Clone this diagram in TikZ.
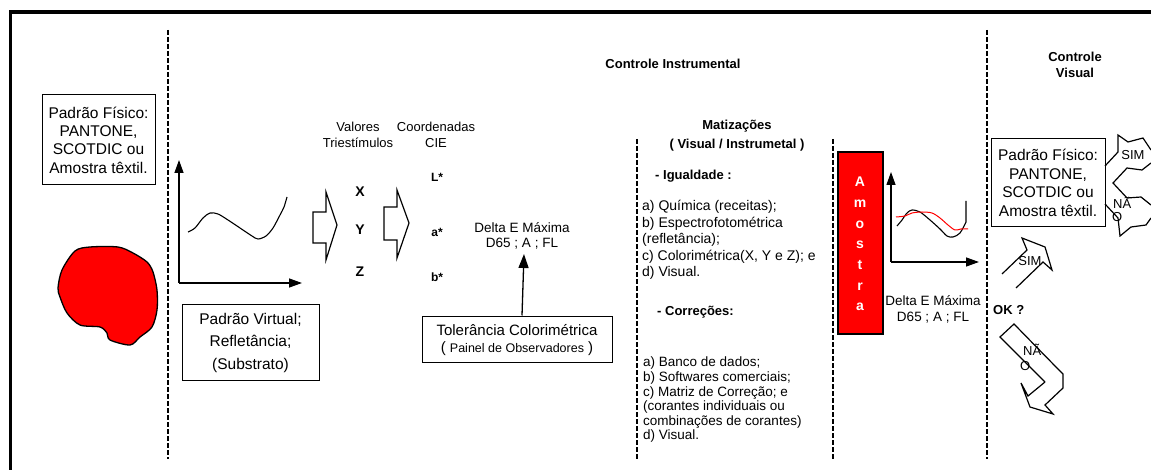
\documentclass[tikz,border=0pt]{standalone}
\usepackage{fontspec}
\setmainfont{Liberation Sans}
\usetikzlibrary{arrows.meta}
\newcommand{\fs}[2]{\fontsize{#1}{#2}\selectfont}
\begin{document}
\begin{tikzpicture}[x=1pt,y=-1pt,
  dashline/.style={line width=1.1pt,dash pattern=on 5pt off 2pt},
  txtbox/.style={draw,line width=1pt,inner sep=0pt,align=center},
  axis/.style={line width=1.3pt,-{Triangle[length=13pt,width=9pt]}},
  hollow/.style={line width=1.2pt,line join=miter},
  lbl/.style={inner sep=0pt,align=center},
  lst/.style={inner sep=0pt,align=left,anchor=north west},
  curve/.style={line width=1.1pt,line join=round}]
\useasboundingbox (0,0) rectangle (1151,470);
% frame
\draw[line width=3.3pt] (10.5,470) -- (10.5,12) -- (1151,12);
% dashed separators
\coordinate (d1t) at (168,30); \coordinate (d1b) at (168,459);
\coordinate (d2t) at (637,139); \coordinate (d2b) at (637,459);
\coordinate (d3t) at (833,139); \coordinate (d3b) at (833,459);
\coordinate (d4t) at (987,30); \coordinate (d4b) at (987,459);
\draw[dashline] (d1t) -- (d1b);
\draw[dashline] (d2t) -- (d2b);
\draw[dashline] (d3t) -- (d3b);
\draw[dashline] (d4t) -- (d4b);
% titles
\node[lbl,font=\bfseries\fs{13}{16}] (ci) at (673,64) {Controle Instrumental};
\node[lbl,font=\bfseries\fs{13}{16}] (cv) at (1075,65) {Controle\\Visual};
% left box
\node[txtbox,minimum width=113pt,minimum height=90pt,font=\fs{15.5}{18.3}] (pf1) at (98.5,140)
  {Padrão Físico:\\PANTONE,\\SCOTDIC ou\\Amostra têxtil.};
% red blob
\draw[line width=1.3pt,fill=red] plot[smooth cycle,tension=0.5] coordinates {
  (75,251) (90,247) (118,247) (133,253) (147,262) (153,272) (157,290) (157,310)
  (152,327) (140,337) (130,345) (110,340) (107,333) (100,327) (80,325) (67,313)
  (60,297) (58,288) (62,270)};
% graph 1
\coordinate (o1) at (179,283);
\coordinate (y1) at (179,160);
\coordinate (x1) at (302,283);
\draw[axis] (o1) -- (y1);
\draw[axis] (o1) -- (x1);
\draw[curve] plot[smooth,tension=0.5] coordinates {(188,232) (195,228) (203,218) (210,213) (218,214)
  (228,220) (240,228) (252,236) (258,239) (266,236) (273,228) (280,215) (284,207) (287,197)};
\node[txtbox,minimum width=137pt,minimum height=75pt,font=\fs{15.5}{22.5}] (pv) at (250.5,342.5)
  {Padrão Virtual;\\Refletância;\\(Substrato)};
% labels
\node[lbl,font=\fs{13}{15.5}] (vt) at (358,135) {Valores\\Triestímulos};
\node[lbl,font=\fs{13}{15.5}] (cc) at (436,135) {Coordenadas\\CIE};
\node[lbl,font=\bfseries\fs{14}{15}] (X) at (360,192) {X};
\node[lbl,font=\bfseries\fs{14}{15}] (Y) at (360,230) {Y};
\node[lbl,font=\bfseries\fs{14}{15}] (Z) at (360,272) {Z};
\node[lbl,font=\bfseries\fs{12}{14}] (L) at (437,177) {L*};
\node[lbl,font=\bfseries\fs{12}{14}] (a) at (437,232) {a*};
\node[lbl,font=\bfseries\fs{12}{14}] (b) at (437,277) {b*};
% hollow arrows
\draw[hollow] (313,212) -- (326,212) -- (326,192) -- (337,225) -- (326,260) -- (326,243) -- (313,243) -- cycle;
\draw[hollow] (384,207) -- (397,207) -- (397,190) -- (409,223) -- (397,258) -- (397,240) -- (384,240) -- cycle;
% delta E
\node[lbl,font=\fs{13.5}{15}] (de1) at (522,236) {Delta E Máxima\\D65 ; A ; FL};
\node[txtbox,minimum width=190pt,minimum height=46pt] (tol) at (517,339) {};
\node[lbl,font=\fs{15}{17}] (tol1) at (517,330.5) {Tolerância Colorimétrica};
\node[lbl,font=\fs{15}{17}] (tol2) at (517,348.5) {( {\fs{12.5}{17}Painel de Observadores} )};
\coordinate (tolarr) at (524,254);
\draw[line width=1.3pt,-{Triangle[length=14pt,width=10pt]}] ([xshift=5pt]tol.north) -- (tolarr);
% Matizações
\node[lbl,font=\bfseries\fs{13}{19}] (mat) at (737,136) {Matizações\\( Visual / Instrumetal )};
\node[lbl,anchor=west,font=\bfseries\fs{13}{15}] (ig) at (655,176) {- Igualdade :};
\node[lst,font=\fs{14}{16.5}] (igl) at (642,200) {a) Química (receitas);\\b) Espectrofotométrica\\(refletância);\\c) Colorimétrica(X, Y e Z); e\\d) Visual.};
\node[lbl,anchor=west,font=\bfseries\fs{13}{15}] (co) at (657,312) {- Correções:};
\node[lst,font=\fs{13.5}{14.6}] (col) at (643,357) {a) Banco de dados;\\b) Softwares comerciais;\\c) Matriz de Correção; e\\(corantes individuais ou\\combinações de corantes)\\d) Visual.};
% Amostra
\node[draw,line width=1.3pt,fill=red,minimum width=45pt,minimum height=182pt,inner sep=0pt] (am) at (860.5,243) {};
\node[lbl,text=white,font=\bfseries\fs{14}{20.7}] (amt) at (860,244) {A\\m\\o\\s\\t\\r\\a};
% graph 2
\coordinate (o2) at (891,262);
\coordinate (y2) at (891,172);
\coordinate (x2) at (979,262);
\draw[axis] (o2) -- (y2);
\draw[axis] (o2) -- (x2);
\draw[curve] plot[smooth,tension=0.5] coordinates {(897,226) (902,220) (907,213) (912,210) (920,212)
  (930,220) (940,229) (947,236) (953,237) (960,233) (966,222)} -- (966,201);
\draw[curve,red,line width=1pt] plot[smooth,tension=0.5] coordinates {(896,217) (905,216) (912,213) (922,212) (932,213)
  (940,218) (948,225) (955,230) (961,229) (968,229)};
\node[lbl,font=\fs{13.5}{16}] (de2) at (933,309) {Delta E Máxima\\D65 ; A ; FL};
% right box
\node[txtbox,minimum width=114pt,minimum height=88pt,font=\fs{15.5}{18.5}] (pf2) at (1048,183)
  {Padrão Físico:\\PANTONE,\\SCOTDIC ou\\Amostra têxtil.};
% right bent arrows (clipped)
\draw[hollow] (1105,166) -- (1118,152) -- (1118,135) -- (1128,142) -- (1143,138) -- (1151,150);
\draw[hollow] (1151,163) -- (1142,170) -- (1127,168) -- (1113,183) -- (1127,198) -- (1141,197) -- (1151,205);
\draw[hollow] (1105,204) -- (1118,218) -- (1120,236) -- (1131,227) -- (1146,225) -- (1151,218);
\node[lbl,font=\fs{13}{15}] (sim1) at (1133,155) {SIM};
\node[lbl,anchor=west,font=\fs{13}{14}] (nao1) at (1113,203) {NÃ};
\node[lbl,anchor=west,font=\fs{13}{14}] (nao1b) at (1112,217) {O};
% OK?
\node[lbl,anchor=west,font=\bfseries\fs{13}{15}] (ok) at (993,310) {OK ?};
\draw[hollow] (1002,274) -- (1027,250) -- (1022,238) -- (1045,247) -- (1052,270) -- (1043,262) -- (1016,288);
\node[lbl,font=\fs{13}{15}] (sim2) at (1030,261) {SIM};
\draw[hollow] (1045,382) -- (1000,337) -- (1014,324) -- (1056,367) -- (1063,374) -- (1063,388) -- (1045,405)
  -- (1053,414) -- (1030,407) -- (1021,383) -- (1028,396) -- (1045,382);
\node[lbl,anchor=west,font=\fs{13}{14}] (nao2) at (1023,350) {NÃ};
\node[lbl,anchor=west,font=\fs{13}{14}] (nao2b) at (1020,366) {O};
\end{tikzpicture}
\end{document}
